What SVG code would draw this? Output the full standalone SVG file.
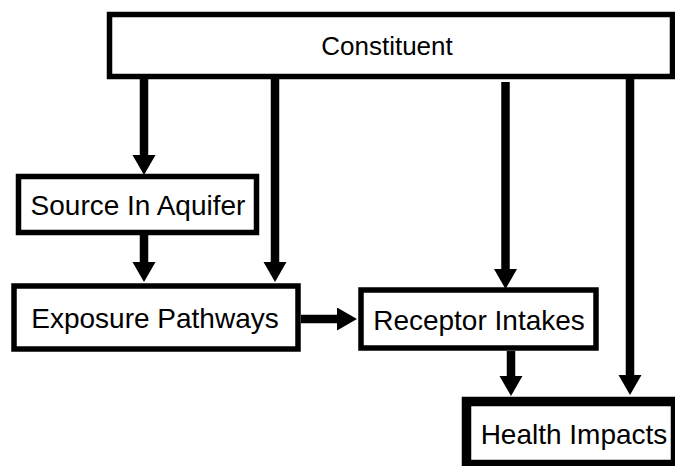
<svg xmlns="http://www.w3.org/2000/svg" width="675" height="466" viewBox="0 0 675 466">
  <style>
    .box { fill: #ffffff; stroke: #000000; stroke-width: 5.5; }
    .box-heavy { fill: #ffffff; stroke: #000000; stroke-width: 9.5; }
    .label { font-family: "Liberation Sans", Arial, sans-serif; font-size: 28px; fill: #000000; text-anchor: middle; }
    .label-top { font-size: 26px; }
    .edge { stroke: #000000; stroke-width: 8.5; fill: none; marker-end: url(#head); }
  </style>
  <defs>
    <marker id="head" markerUnits="userSpaceOnUse" markerWidth="22" markerHeight="24" refX="1" refY="11.5" orient="auto" viewBox="0 0 22 24">
      <path d="M0,0 L20,11.5 L0,23 Z" fill="#000000"/>
    </marker>
  </defs>
  <rect width="675" height="466" fill="#ffffff"/>

  <g id="connectors">
    <!-- Constituent fan-out -->
    <line class="edge" x1="144" y1="79" x2="144" y2="156"/>
    <line class="edge" x1="275" y1="79" x2="275" y2="263"/>
    <line class="edge" x1="505.5" y1="82" x2="505.5" y2="270"/>
    <line class="edge" x1="630" y1="79" x2="630" y2="376"/>
    <!-- chain -->
    <line class="edge" x1="144" y1="235" x2="144" y2="263"/>
    <line class="edge" x1="301" y1="319" x2="338" y2="319"/>
    <line class="edge" x1="511" y1="351" x2="511" y2="377"/>
  </g>

  <g id="constituent">
    <rect class="box" x="109.5" y="14.5" width="563" height="62"/>
    <text class="label label-top" x="387" y="55">Constituent</text>
  </g>

  <g id="source-in-aquifer">
    <rect class="box" x="18.5" y="176.5" width="238" height="56"/>
    <text class="label" x="138" y="215">Source In Aquifer</text>
  </g>

  <g id="exposure-pathways">
    <rect class="box" x="14" y="286" width="284" height="63"/>
    <text class="label" x="155" y="327.5">Exposure Pathways</text>
  </g>

  <g id="receptor-intakes">
    <rect class="box" x="361" y="290" width="235" height="58"/>
    <text class="label" x="479" y="330">Receptor Intakes</text>
  </g>

  <g id="health-impacts">
    <rect class="box-heavy" x="466.5" y="401.5" width="209" height="63"/>
    <text class="label" x="574" y="444">Health Impacts</text>
  </g>
</svg>
